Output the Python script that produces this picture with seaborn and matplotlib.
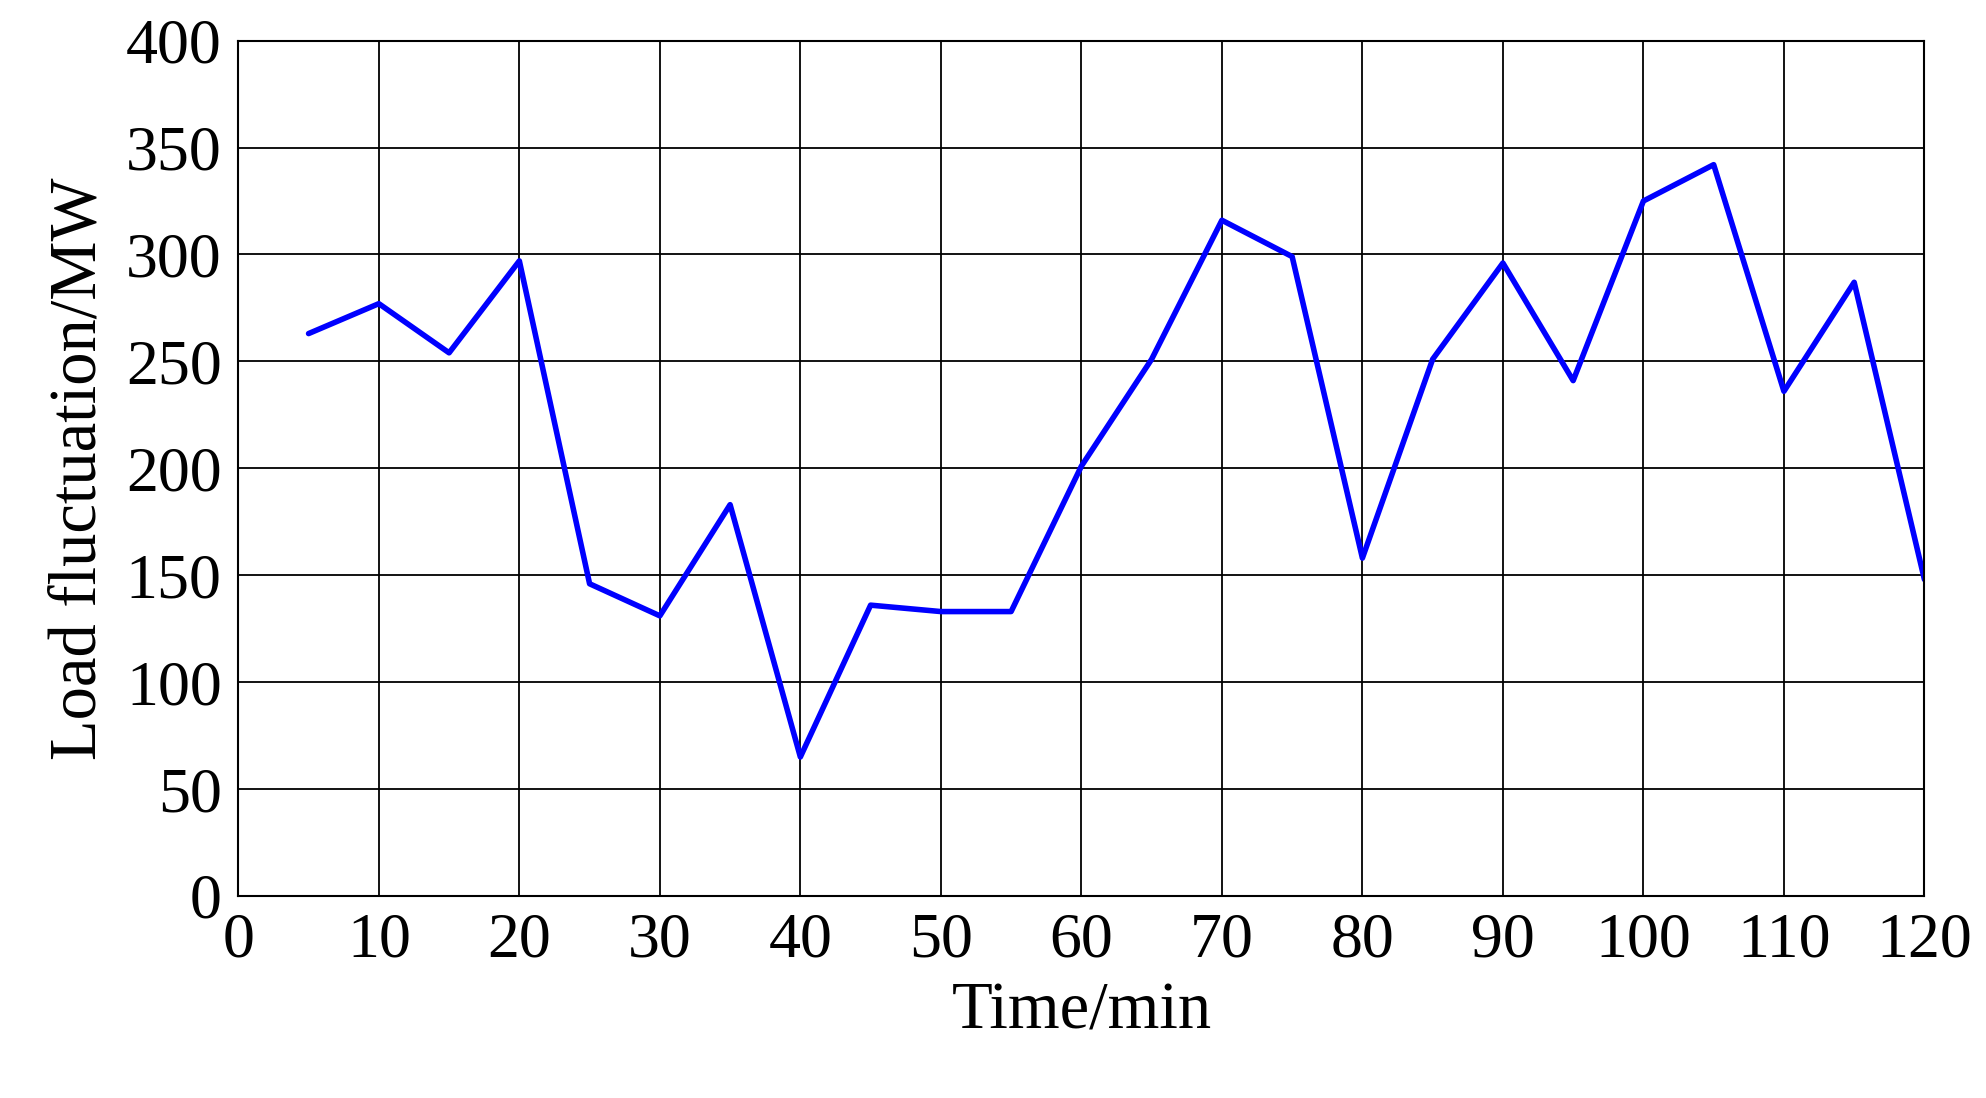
import matplotlib
matplotlib.use("Agg")
import matplotlib.pyplot as plt
import seaborn as sns
import pandas as pd

time_min = [5,10,15,20,25,30,35,40,45,50,55,60,65,70,75,80,85,90,95,100,105,110,115,120]
load_mw = [263,277,254,297,146,131,183,65,136,133,133,201,251,316,299,158,251,296,241,325,342,236,287,148]

sns.set_style("white")
plt.rcParams['font.family'] = ['Liberation Serif', 'DejaVu Serif']
plt.rcParams['text.color'] = 'black'
plt.rcParams['axes.labelcolor'] = 'black'
plt.rcParams['xtick.color'] = 'black'
plt.rcParams['ytick.color'] = 'black'

fig = plt.figure(figsize=(19.86, 10.98), dpi=100)
ax = fig.add_axes([0.12, 0.184, 0.849, 0.779])
df = pd.DataFrame({"t": time_min, "v": load_mw})
sns.lineplot(data=df, x="t", y="v", ax=ax, color="#0000ff", linewidth=4.0)
ax.set_xlim(0, 120)
ax.set_ylim(0, 400)
ax.set_xticks(range(0, 121, 10))
ax.set_yticks(range(0, 401, 50))
ax.grid(True, color="black", linewidth=1.3)
for s in ax.spines.values():
    s.set_color("black"); s.set_linewidth(1.5)
ax.tick_params(labelsize=46, length=0, pad=12, colors="black")
ax.set_xlabel("Time/min", fontsize=48, labelpad=8, color="black")
ax.set_ylabel("Load fluctuation/MW", fontsize=48, labelpad=12, color="black")
fig.savefig("out.png", dpi=100)
